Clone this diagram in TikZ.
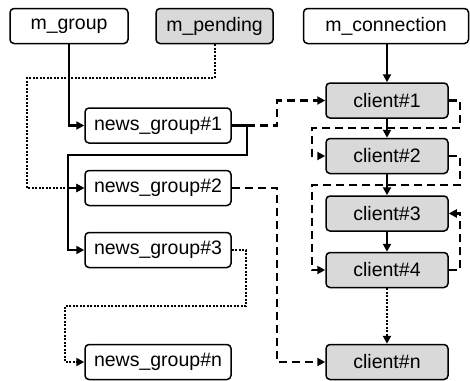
\documentclass[tikz,border=0pt]{standalone}
\usepackage{fontspec}
\setmainfont{Liberation Sans}
\usetikzlibrary{arrows.meta}
\begin{document}
\begin{tikzpicture}[x=1pt,y=-1pt,
  box/.style={draw, line width=1.5pt, rounded corners=4pt, inner sep=0pt,
    minimum height=35pt, font=\fontsize{19.5}{21}\selectfont},
  plainbox/.style={box, fill=white},
  shadebox/.style={box, fill=black!15},
  tip/.style={-{Triangle[length=8pt,width=8pt]}},
  solidc/.style={line width=2.6pt, tip},
  dashc/.style={line width=2.6pt, dash pattern=on 8pt off 5pt, tip},
  dotc/.style={line width=2pt, dash pattern=on 2pt off 1.5pt, tip},
]
\useasboundingbox (0,0) rectangle (470,380);

% heads of the three lists
\node[plainbox, minimum width=118pt] (mgroup) at (69,26) {m\_group};
\node[shadebox, minimum width=117pt] (mpending) at (214.5,26) {m\_pending};
\node[plainbox, minimum width=165pt] (mconn) at (386,26) {m\_connection};

% news groups
\node[plainbox, minimum width=146pt] (ng1) at (158,125.5) {news\_group\#1};
\node[plainbox, minimum width=146pt] (ng2) at (158,188) {news\_group\#2};
\node[plainbox, minimum width=146pt] (ng3) at (158,250) {news\_group\#3};
\node[plainbox, minimum width=146pt] (ngn) at (158,362) {news\_group\#n};

% clients
\node[shadebox, minimum width=122pt] (c1) at (387,100.5) {client\#1};
\node[shadebox, minimum width=122pt] (c2) at (387,156) {client\#2};
\node[shadebox, minimum width=122pt] (c3) at (387,213.5) {client\#3};
\node[shadebox, minimum width=122pt] (c4) at (387,270) {client\#4};
\node[shadebox, minimum width=122pt] (cn) at (387,362) {client\#n};

% bend points
\coordinate (pl) at (27,78);
\coordinate (a1) at (247,125.5);
\coordinate (a2) at (247,155);
\coordinate (a3) at (68,155);
\coordinate (b1) at (277,125.5);
\coordinate (b2) at (277,188);
\coordinate (d1) at (246,306);
\coordinate (d2) at (65,306);
\coordinate (e1) at (460,128);
\coordinate (f1) at (312,128);
\coordinate (e2) at (460,185);
\coordinate (f2) at (312,185);
\coordinate (e3) at (460,213.5);

% group list
\draw[solidc] (mgroup.south) |- (ng1.west);
\draw[solidc] (ng1.east) -| (a2) -- (a3) |- (ng3.west);
\draw[solidc] (a3) |- (ng2.west);

% pending list
\draw[dotc] (mpending.south) |- (pl) |- (ng2.west);
\draw[dotc] (ng3.east) -| (d1) -- (d2) |- (ngn.west);

% groups to their clients
\draw[dashc] (a1) -- (b1) |- (c1.west);
\draw[dashc] (ng2.east) -- (b2) |- (cn.west);

% connection list
\draw[solidc] (c1.north |- mconn.south) -- (c1.north);
\draw[solidc] (c1.south) -- (c2.north);
\draw[solidc] (c2.south) -- (c3.north);
\draw[solidc] (c3.south) -- (c4.north);
\draw[dotc] (c4.south) -- (cn.north);

% clients within a group
\draw[dashc] (c1.east) -| (e1) -- (f1) |- (c2.west);
\draw[dashc] (c2.east) -| (e2) -- (f2) |- (c4.west);
\draw[dashc] (c4.east) -| (e3) -- (c3.east);
\end{tikzpicture}
\end{document}
